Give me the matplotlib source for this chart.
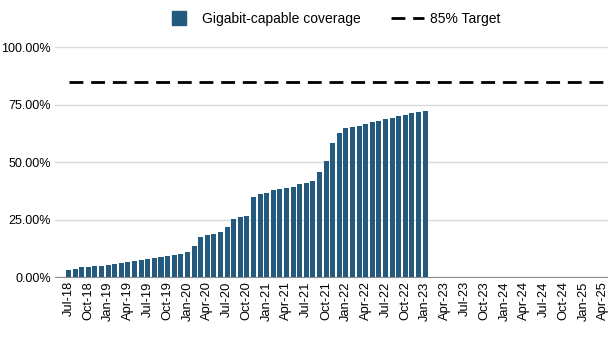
import numpy as np
import matplotlib.pyplot as plt
from matplotlib.lines import Line2D
from matplotlib.ticker import FuncFormatter

plt.rcParams['font.family'] = ['Liberation Sans', 'DejaVu Sans']

# monthly series, Jul-18 .. Apr-25 on the axis; coverage known to Jan-23
months = ['Jul', 'Aug', 'Sep', 'Oct', 'Nov', 'Dec', 'Jan', 'Feb', 'Mar', 'Apr', 'May', 'Jun']
coverage = [3.0, 3.5, 4.2, 4.3, 4.6, 4.7, 5.2, 5.6, 6.1, 6.5, 7.0, 7.4,
            7.8, 8.2, 8.6, 9.1, 9.6, 10.0, 11.0, 13.6, 17.3, 18.1, 18.7, 19.7,
            21.9, 25.3, 26.2, 26.7, 34.9, 36.1, 36.7, 37.8, 38.1, 38.6, 39.3, 40.3,
            40.7, 41.9, 45.8, 50.4, 58.1, 62.5, 64.6, 65.4, 65.7, 66.5, 67.5, 68.0,
            68.6, 69.3, 70.0, 70.4, 71.2, 71.6, 72.2]
target_pct = 85
n_months = 82
bar_color = '#245a7e'

labels = []
for i in range(n_months):
    m = (6 + i) % 12
    yr = 18 + (6 + i) // 12
    labels.append(f"{months[(m + 6) % 12]}-{yr}")

x = np.arange(n_months)
cov = np.full(n_months, np.nan)
cov[:len(coverage)] = np.array(coverage) / 100
target = np.full(n_months, target_pct / 100)

fig = plt.figure(figsize=(6.08, 3.42), dpi=100)
ax = fig.add_axes([0.0905, 0.19, 0.9095, 0.6725])

ax.bar(x, cov, width=0.76, color=bar_color, zorder=3)
line, = ax.plot(x, target, color='black', linestyle=(0, (5, 2.8)), linewidth=2.0, zorder=4)

ax.set_ylim(0, 1.0)
ax.set_xlim(-2.05, 81.7)
ax.set_yticks([0, 0.25, 0.5, 0.75, 1.0])
ax.yaxis.set_major_formatter(FuncFormatter(lambda v, p: f"{v * 100:.2f}%"))
ax.grid(axis='y', color='#d9d9d9', linewidth=1.0, zorder=0)
ax.set_xticks(x[::3])
ax.set_xticklabels(labels[::3], rotation=90, fontsize=9.3)
ax.tick_params(axis='y', labelsize=9.0, length=0, pad=3)
ax.tick_params(axis='x', length=0, pad=3)
for s in ['top', 'right', 'left']:
    ax.spines[s].set_visible(False)
ax.spines['bottom'].set_color('#8c8c8c')
ax.spines['bottom'].set_zorder(2)

# square swatch for the bars in the legend
swatch = Line2D([], [], linestyle='none', marker='s', markersize=10,
                markerfacecolor=bar_color, markeredgecolor=bar_color)
fig.legend([swatch, line], ['Gigabit-capable coverage', '85% Target'],
           loc='center', bbox_to_anchor=(0.545, 0.945), ncol=2, frameon=False,
           fontsize=10, handlelength=2.4, columnspacing=2.2, handletextpad=0.4)

fig.savefig('out.png', dpi=100)
